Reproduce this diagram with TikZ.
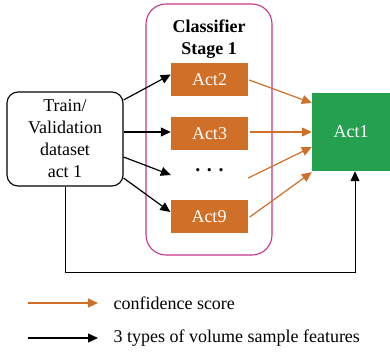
\documentclass[tikz,border=0pt]{standalone}
\usepackage{fontspec}
\setmainfont{Liberation Serif}
\newfontfamily\diagserif{Liberation Serif}
\usetikzlibrary{arrows.meta}
\definecolor{myorange}{HTML}{D07028}
\definecolor{mygreen}{HTML}{24A04E}
\definecolor{mypink}{HTML}{C2368F}
\begin{document}
\begin{tikzpicture}[x=1pt,y=-1pt,
  font=\diagserif\fontsize{18}{22}\selectfont,
  actbox/.style={fill=myorange, text=white, minimum width=77pt, minimum height=33pt, inner sep=0pt},
  orarrow/.style={draw=myorange, line width=1.2pt, -{Triangle[length=10pt,width=9pt]}},
  blarrow/.style={draw=black, line width=1.2pt, -{Triangle[length=10pt,width=9pt]}}]
\useasboundingbox (0,0) rectangle (390,351);
% nodes
\node[draw=mypink, line width=1.1pt, rounded corners=20pt, minimum width=126pt, minimum height=251pt, inner sep=0pt] (cls) at (209,129.5) {};
\node[font=\diagserif\fontsize{18}{22}\selectfont\bfseries, align=center] (title) at (209,39) {Classifier\\Stage 1};
\node[draw=black, line width=1.1pt, rounded corners=11pt, minimum width=116pt, minimum height=94pt, align=center, inner sep=0pt] (train) at (65,139) {Train/\\Validation\\dataset\\act 1};
\node[actbox] (act2) at (209.5,79.5) {Act2};
\node[actbox] (act3) at (209.5,133.5) {Act3};
\node[minimum width=77pt, minimum height=20pt, inner sep=0pt, font=\diagserif\fontsize{20}{22}\selectfont\bfseries] (dots) at (209.5,170) {.\,\,.\,\,.};
\node[actbox] (act9) at (209,216.5) {Act9};
\node[fill=mygreen, text=white, minimum width=78pt, minimum height=78pt, inner sep=0pt] (act1) at (351,132) {Act1};
% black arrows
\draw[blarrow] ([yshift=39pt]train.east) -- ([yshift=5pt]act2.west);
\draw[blarrow] ([yshift=7pt]train.east) -- ([yshift=1.5pt]act3.west);
\draw[blarrow] ([yshift=-18pt]train.east) -- ([yshift=-5pt]dots.west);
\draw[blarrow] ([yshift=-39pt]train.east) -- ([yshift=4.5pt]act9.west);
% orange arrows
\draw[orarrow] ([xshift=1pt,yshift=-0.5pt]act2.east) -- ([yshift=29pt]act1.west);
\draw[orarrow] ([xshift=2pt,yshift=1.5pt]act3.east) -- (act1.west);
\draw[orarrow] ([yshift=-8pt]dots.east) -- ([yshift=-15pt]act1.west);
\draw[orarrow] ([xshift=2pt,yshift=-0.5pt]act9.east) -- ([yshift=-1pt]act1.south west);
% bottom path
\coordinate (corner) at (355,272);
\draw[line width=1pt, -{Triangle[length=10pt,width=9pt]}] (train.south) |- (corner) -- ([xshift=4pt]act1.south);
% legend
\node[anchor=west] (leg1) at (110,303) {confidence score};
\node[anchor=west] (leg2) at (110,338) {3 types of volume sample features};
\coordinate (l1) at (28,303);
\coordinate (l2) at (28,338);
\draw[orarrow] (l1) -- ([xshift=-12pt]leg1.west);
\draw[blarrow] (l2) -- ([xshift=-12pt]leg2.west);
\end{tikzpicture}
\end{document}
